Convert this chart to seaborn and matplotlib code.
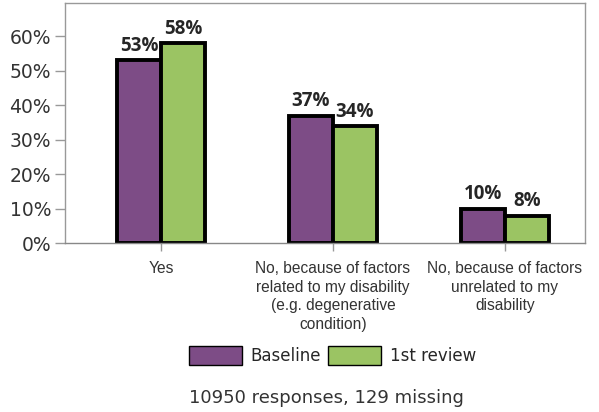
import pandas as pd
import matplotlib.pyplot as plt
import seaborn as sns

categories = ["Yes",
              "No, because of factors\nrelated to my disability\n(e.g. degenerative\ncondition)",
              "No, because of factors\nunrelated to my\ndisability"]
baseline = [53, 37, 10]
first_review = [58, 34, 8]
series = ["Baseline", "1st review"]
colors = ["#7d4c86", "#9bc463"]

df = pd.DataFrame({
    "category": categories * 2,
    "value": baseline + first_review,
    "series": [series[0]] * 3 + [series[1]] * 3,
})

sns.set_style("white")
fig = plt.figure(figsize=(5.99, 4.12), dpi=100)
ax = fig.add_axes([0.1085, 0.41, 0.868, 0.583])

sns.barplot(data=df, x="category", y="value", hue="series", palette=colors,
            saturation=1, width=0.51, edgecolor="black", linewidth=2.8, ax=ax, legend=True)

for cont in ax.containers:
    ax.bar_label(cont, labels=[f"{v:.0f}%" for v in cont.datavalues],
                 padding=3, fontsize=13.5, fontweight="bold", family="Open Sans")

ax.set_xlim(-0.558, 2.465)
ax.set_ylim(0, 69.7)
ax.set_yticks(range(0, 70, 10))
ax.set_yticklabels([f"{t}%" for t in range(0, 70, 10)], fontsize=13.5, color="#333333")
ax.set_xticks(range(3))
ax.set_xticklabels(categories, fontsize=11.2, color="#333333", family="Liberation Sans",
                   linespacing=1.3)
ax.set_xlabel("")
ax.set_ylabel("")
for s in ax.spines.values():
    s.set_color("#999999")
    s.set_linewidth(1)
ax.spines["bottom"].set_color("#888888")
ax.tick_params(axis="both", direction="out", length=7, width=1, color="#999999",
               bottom=True, left=True, pad=3)
ax.tick_params(axis="x", length=6, pad=7)

handles, labels = ax.get_legend_handles_labels()
ax.legend_.remove()
fig.legend(handles, labels, loc="center", bbox_to_anchor=(0.555, 0.138), ncol=2,
           frameon=False, handlelength=3.2, handleheight=1.4,
           handletextpad=0.5, columnspacing=0.4, prop={"family": "DejaVu Sans", "size": 12})
for h in fig.legends[0].legend_handles:
    h.set_linewidth(1)

fig.text(0.545, 0.034, "10950 responses, 129 missing", ha="center", va="center",
         fontsize=13, color="#333333")

fig.savefig("out.png", dpi=100)
